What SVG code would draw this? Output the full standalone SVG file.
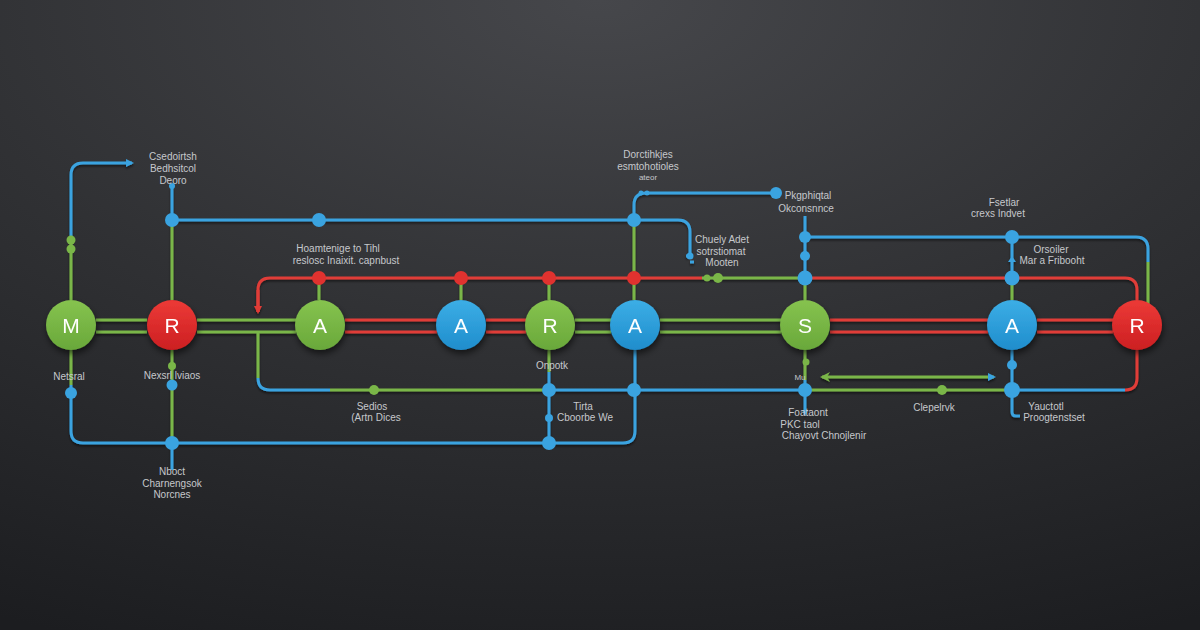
<svg xmlns="http://www.w3.org/2000/svg" width="1200" height="630" viewBox="0 0 1200 630">
<defs>
<radialGradient id="bg" cx="50%" cy="0%" r="110%" fx="50%" fy="0%">
<stop offset="0" stop-color="#46474b"/>
<stop offset="0.5" stop-color="#303134"/>
<stop offset="1" stop-color="#1c1d20"/>
</radialGradient>
<linearGradient id="gG" x1="0" y1="0" x2="0" y2="1"><stop offset="0" stop-color="#86c34f"/><stop offset="1" stop-color="#69a83a"/></linearGradient>
<linearGradient id="gR" x1="0" y1="0" x2="0" y2="1"><stop offset="0" stop-color="#ec3a36"/><stop offset="1" stop-color="#cc1f22"/></linearGradient>
<linearGradient id="gB" x1="0" y1="0" x2="0" y2="1"><stop offset="0" stop-color="#3caee6"/><stop offset="1" stop-color="#1f8dcc"/></linearGradient>
<filter id="sh" x="-30%" y="-30%" width="160%" height="170%"><feDropShadow dx="1" dy="4" stdDeviation="3" flood-color="#000" flood-opacity="0.55"/></filter>
<filter id="ls" x="-5%" y="-50%" width="110%" height="200%"><feDropShadow dx="0" dy="2" stdDeviation="1.2" flood-color="#000" flood-opacity="0.5"/></filter>
<marker id="aB" markerWidth="10" markerHeight="10" refX="6" refY="4" orient="auto" markerUnits="userSpaceOnUse"><path d="M0,0 L8,4 L0,8 z" fill="#3aa3e0"/></marker>
<marker id="aR" markerWidth="10" markerHeight="10" refX="6" refY="4" orient="auto" markerUnits="userSpaceOnUse"><path d="M0,0 L8,4 L0,8 z" fill="#e03a36"/></marker>
<style>
.g{stroke:#7ab648;stroke-width:3;fill:none}
.r{stroke:#e03c38;stroke-width:3;fill:none}
.b{stroke:#3aa3e0;stroke-width:3;fill:none}
.dg{fill:#7ab648}
.dr{fill:#e0322f}
.db{fill:#3aa3e0}
.lbl{font-family:"Liberation Sans",Arial,sans-serif;font-size:10px;fill:#c6c8cc;text-anchor:middle}
.nl{font-family:"Liberation Sans",Arial,sans-serif;font-size:21px;fill:#ffffff;text-anchor:middle}
</style>
</defs>
<rect width="1200" height="630" fill="url(#bg)"/>

<g id="connectors" filter="url(#ls)">
<!-- double lines between nodes -->
<path class="g" d="M96 320H147M96 332H147"/>
<path class="g" d="M197 320H296M197 332H296"/>
<path class="r" d="M345 320H437M345 332H437"/>
<path class="r" d="M486 320H526M486 332H526"/>
<path class="g" d="M575 320H611M575 332H611"/>
<path class="g" d="M660 320H781M660 332H781"/>
<path class="r" d="M830 320H988M830 332H988"/>
<path class="r" d="M1037 320H1113M1037 332H1113"/>
<!-- red top bus -->
<path class="r" d="M258 312V290Q258 278 270 278H702" marker-end="" />
<path class="r" d="M258 290V312" marker-end="url(#aR)"/>
<path class="g" d="M702 278H805"/>
<path class="r" d="M805 278H1125Q1137 278 1137 290V300"/>
<!-- green stubs from red bus -->
<path class="g" d="M319 278V300M461 278V300M549 278V300M634 220V300"/>
<!-- blue top line -->
<path class="b" d="M172 188V220H678Q690 220 690 232V256"/>
<path class="b" d="M634 220V205Q634 193 646 193H776"/>
<path class="g" d="M172 220V300"/>
<!-- left M branch -->
<path class="b" d="M71 236V175Q71 163 83 163H132" marker-end="url(#aB)"/>
<path class="g" d="M71 236V300"/>
<path class="g" d="M71 350V385"/>
<path class="b" d="M71 385V431Q71 443 83 443H623Q635 443 635 431V350"/>
<path class="g" d="M172 350V443"/>
<path class="b" d="M172 443V470"/>
<!-- lower loop -->
<path class="g" d="M258 333V378"/>
<path class="b" d="M258 378Q258 390 270 390H330"/>
<path class="g" d="M330 390H549"/>
<path class="b" d="M549 390H805"/>
<path class="g" d="M805 390H1012"/>
<path class="b" d="M1012 390H1125"/>
<path class="r" d="M1125 390Q1137 390 1137 378V350"/>
<path class="g" d="M549 350V372"/>
<path class="b" d="M549 372V443"/>
<!-- S column -->
<path class="b" d="M805 216V278"/>
<path class="g" d="M805 278V300M805 350V380"/>
<path class="b" d="M805 380V410"/>
<path class="b" d="M805 237H1136Q1148 237 1148 249V262"/>
<path class="g" d="M1148 262V305"/>
<!-- A 1012 column -->
<path class="b" d="M1012 237V278"/>
<path class="g" d="M1012 278V300"/>
<path class="b" d="M1012 350V412Q1012 416 1016 416H1020"/>
<!-- green arrow line -->
<path class="g" d="M822 377H994" marker-end="url(#aB)"/>
<path d="M820 377L830 372L827 377L830 382Z" fill="#7ab648"/>
<path d="M1008 262L1012 256L1016 262Z" fill="#3aa3e0"/>
<path d="M802 410L805 416L808 410Z" fill="#3aa3e0"/>
<path class="b" d="M690 262H694M686 256H690"/>
</g>

<g id="dots">
<circle class="dr" cx="319" cy="278" r="7"/>
<circle class="dr" cx="461" cy="278" r="7"/>
<circle class="dr" cx="549" cy="278" r="7"/>
<circle class="dr" cx="634" cy="278" r="7"/>
<circle class="dg" cx="707" cy="278" r="3.5"/>
<circle class="dg" cx="718" cy="278" r="5"/>
<circle class="db" cx="805" cy="278" r="7.5"/>
<circle class="db" cx="1012" cy="278" r="7.5"/>
<circle class="db" cx="172" cy="220" r="7"/>
<circle class="db" cx="319" cy="220" r="7"/>
<circle class="db" cx="634" cy="220" r="7"/>
<circle class="db" cx="690" cy="256" r="3.5"/>
<circle class="db" cx="776" cy="193" r="6"/>
<circle class="db" cx="641" cy="193" r="2.5"/>
<circle class="db" cx="647" cy="193" r="2.5"/>
<circle class="db" cx="172" cy="186" r="3"/>
<circle class="dg" cx="71" cy="240" r="4.5"/>
<circle class="dg" cx="71" cy="249" r="4.5"/>
<circle class="db" cx="71" cy="393" r="6"/>
<circle class="dg" cx="172" cy="366" r="4"/>
<circle class="db" cx="172" cy="385" r="5.5"/>
<circle class="db" cx="172" cy="443" r="7"/>
<circle class="db" cx="549" cy="443" r="7"/>
<circle class="db" cx="549" cy="418" r="4"/>
<circle class="dg" cx="374" cy="390" r="5"/>
<circle class="db" cx="549" cy="390" r="7"/>
<circle class="db" cx="634" cy="390" r="7"/>
<circle class="db" cx="805" cy="390" r="7"/>
<circle class="dg" cx="942" cy="390" r="5"/>
<circle class="db" cx="1012" cy="390" r="8"/>
<circle class="db" cx="1012" cy="365" r="5"/>
<circle class="db" cx="805" cy="237" r="6"/>
<circle class="db" cx="805" cy="256" r="5"/>
<circle class="db" cx="1012" cy="237" r="7"/>
<circle class="dg" cx="806" cy="362" r="3.5"/>
</g>

<g id="node-M" filter="url(#sh)"><circle cx="71" cy="325" r="25" fill="url(#gG)"/><text class="nl" x="71" y="333">M</text></g>
<g id="node-R1" filter="url(#sh)"><circle cx="172" cy="325" r="25" fill="url(#gR)"/><text class="nl" x="172" y="333">R</text></g>
<g id="node-A1" filter="url(#sh)"><circle cx="320" cy="325" r="25" fill="url(#gG)"/><text class="nl" x="320" y="333">A</text></g>
<g id="node-A2" filter="url(#sh)"><circle cx="461" cy="325" r="25" fill="url(#gB)"/><text class="nl" x="461" y="333">A</text></g>
<g id="node-R2" filter="url(#sh)"><circle cx="550" cy="325" r="25" fill="url(#gG)"/><text class="nl" x="550" y="333">R</text></g>
<g id="node-A3" filter="url(#sh)"><circle cx="635" cy="325" r="25" fill="url(#gB)"/><text class="nl" x="635" y="333">A</text></g>
<g id="node-S" filter="url(#sh)"><circle cx="805" cy="325" r="25" fill="url(#gG)"/><text class="nl" x="805" y="333">S</text></g>
<g id="node-A4" filter="url(#sh)"><circle cx="1012" cy="325" r="25" fill="url(#gB)"/><text class="nl" x="1012" y="333">A</text></g>
<g id="node-R3" filter="url(#sh)"><circle cx="1137" cy="325" r="25" fill="url(#gR)"/><text class="nl" x="1137" y="333">R</text></g>

<g id="labels">
<text class="lbl" x="173" y="160">Csedoirtsh</text>
<text class="lbl" x="173" y="172">Bedhsitcol</text>
<text class="lbl" x="173" y="184">Deoro</text>
<text class="lbl" x="648" y="158">Dorctihkjes</text>
<text class="lbl" x="648" y="170">esmtohotioles</text>
<text class="lbl" x="648" y="180" style="font-size:8px">ateor</text>
<text class="lbl" x="338" y="252">Hoamtenige to Tihl</text>
<text class="lbl" x="346" y="264">reslosc Inaixit. capnbust</text>
<text class="lbl" x="808" y="199">Pkgphiqtal</text>
<text class="lbl" x="806" y="212">Okconsnnce</text>
<text class="lbl" x="722" y="243">Chuely Adet</text>
<text class="lbl" x="721" y="255">sotrstiomat</text>
<text class="lbl" x="722" y="266">Mooten</text>
<text class="lbl" x="1004" y="206">Fsetlar</text>
<text class="lbl" x="998" y="217">crexs Indvet</text>
<text class="lbl" x="1051" y="253">Orsoiler</text>
<text class="lbl" x="1052" y="264">Mar a Fribooht</text>
<text class="lbl" x="69" y="380">Netsral</text>
<text class="lbl" x="172" y="379">Nexsrl lviaos</text>
<text class="lbl" x="552" y="369">Onpotk</text>
<text class="lbl" x="372" y="410">Sedios</text>
<text class="lbl" x="376" y="421">(Artn Dices</text>
<text class="lbl" x="583" y="410">Tirta</text>
<text class="lbl" x="585" y="421">Cboorbe We</text>
<text class="lbl" x="172" y="475">Nboct</text>
<text class="lbl" x="172" y="487">Charnengsok</text>
<text class="lbl" x="172" y="498">Norcnes</text>
<text class="lbl" x="800" y="380" style="font-size:8px">Mu</text>
<text class="lbl" x="808" y="416">Foataont</text>
<text class="lbl" x="800" y="428">PKC taol</text>
<text class="lbl" x="824" y="439">Chayovt Chnojlenir</text>
<text class="lbl" x="934" y="411">Clepelrvk</text>
<text class="lbl" x="1046" y="410">Yauctotl</text>
<text class="lbl" x="1054" y="421">Proogtenstset</text>
</g>
</svg>
